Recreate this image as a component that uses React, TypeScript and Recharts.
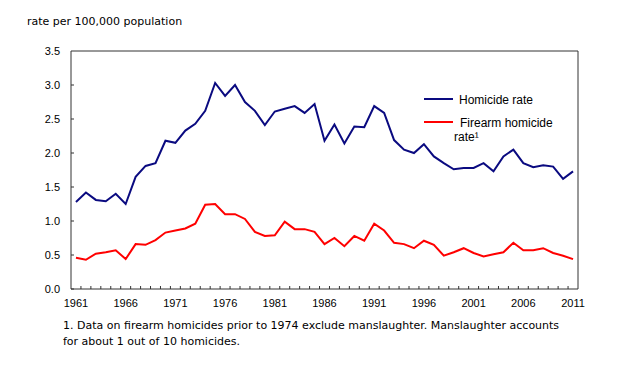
import React from "react";
import { LineChart, Line, XAxis, YAxis, Legend } from "recharts";

const years = [
  "1961", "1962", "1963", "1964", "1965", "1966", "1967", "1968", "1969", "1970",
  "1971", "1972", "1973", "1974", "1975", "1976", "1977", "1978", "1979", "1980",
  "1981", "1982", "1983", "1984", "1985", "1986", "1987", "1988", "1989", "1990",
  "1991", "1992", "1993", "1994", "1995", "1996", "1997", "1998", "1999", "2000",
  "2001", "2002", "2003", "2004", "2005", "2006", "2007", "2008", "2009", "2010",
  "2011",
];

const homicideRate = [
  1.28, 1.42, 1.31, 1.29, 1.4, 1.25, 1.65, 1.81, 1.85, 2.18,
  2.15, 2.33, 2.43, 2.62, 3.03, 2.84, 3.0, 2.75, 2.62, 2.41,
  2.61, 2.65, 2.69, 2.59, 2.72, 2.18, 2.42, 2.14, 2.39, 2.38,
  2.69, 2.59, 2.19, 2.05, 2.0, 2.13, 1.95, 1.85, 1.76, 1.78,
  1.78, 1.85, 1.73, 1.95, 2.05, 1.85, 1.79, 1.82, 1.8, 1.62,
  1.73,
];

const firearmRate = [
  0.46, 0.43, 0.52, 0.54, 0.57, 0.44, 0.66, 0.65, 0.72, 0.83,
  0.86, 0.89, 0.96, 1.24, 1.25, 1.1, 1.1, 1.03, 0.84, 0.78,
  0.79, 0.99, 0.88, 0.88, 0.84, 0.66, 0.75, 0.63, 0.78, 0.71,
  0.96, 0.86, 0.68, 0.66, 0.6, 0.71, 0.65, 0.49, 0.54, 0.6,
  0.53, 0.48, 0.51, 0.54, 0.68, 0.57, 0.57, 0.6, 0.53, 0.49,
  0.44,
];

const labelYears = ["1961", "1966", "1971", "1976", "1981", "1986", "1991", "1996", "2001", "2006", "2011"];
const yTicks = [0, 0.5, 1, 1.5, 2, 2.5, 3, 3.5];

const titleText = "rate per 100,000 population";
const seriesNames = ["Homicide rate", "Firearm homicide", "rate\u00b9"];
const footnoteLines = [
  "1. Data on firearm homicides prior to 1974 exclude manslaughter. Manslaughter accounts",
  "for about 1 out of 10 homicides.",
];

const data = years.map((y, i) => ({
  year: y,
  homicide: homicideRate[i],
  firearm: firearmRate[i],
}));

const BLUE = "#0a0a80";
const RED = "#ff0000";
const AXIS = "#333333";
const W = 620;
const H = 375;
const M = { top: 51, right: 42, left: 0, bottom: 56 };
const Y_AXIS_W = 71;
const X_AXIS_H = 30;
const PLOT_W = W - Y_AXIS_W - M.right;
const PLOT_H = H - M.top - M.bottom - X_AXIS_H;
const HALF = PLOT_W / years.length / 2;

const XTick = (props: any) => {
  const { x, y, payload, index } = props;
  const isLast = index === years.length - 1;
  return (
    <g>
      {isLast ? (
        <line x1={x + HALF} x2={x + HALF} y1={y} y2={y - PLOT_H} stroke={AXIS} strokeWidth={1} />
      ) : (
        <line x1={x + HALF} x2={x + HALF} y1={y} y2={y - 3} stroke={AXIS} strokeWidth={1} />
      )}
      {labelYears.includes(payload.value) && (
        <text x={x} y={y + 18} textAnchor="middle" fontFamily="'Liberation Sans', Arial, sans-serif" fontSize={11} fill="#000">
          {payload.value}
        </text>
      )}
    </g>
  );
};

const YTick = (props: any) => {
  const { x, y, payload, index } = props;
  const ax = x + 11;
  const isTop = index === yTicks.length - 1;
  return (
    <g>
      {isTop ? (
        <line x1={ax} x2={ax + PLOT_W} y1={y} y2={y} stroke={AXIS} strokeWidth={1} />
      ) : (
        <line x1={ax} x2={ax + 3} y1={y} y2={y} stroke={AXIS} strokeWidth={1} />
      )}
      <text x={x} y={y + 4} textAnchor="end" fontFamily="'Liberation Sans', Arial, sans-serif" fontSize={11} fill="#000">
        {payload.value.toFixed(1)}
      </text>
    </g>
  );
};

const LegendContent = () => (
  <svg width={170} height={60} style={{ display: "block" }}>
    <line x1={4} x2={33} y1={11} y2={11} stroke={BLUE} strokeWidth={2} />
    <text x={39} y={15.5} fontFamily="'Liberation Sans', Arial, sans-serif" fontSize={12} fill="#000">
      {seriesNames[0]}
    </text>
    <line x1={4} x2={33} y1={34} y2={34} stroke={RED} strokeWidth={2} />
    <text x={40} y={38.5} fontFamily="'Liberation Sans', Arial, sans-serif" fontSize={12} fill="#000">
      {seriesNames[1]}
    </text>
    <text x={34} y={52.5} fontFamily="'Liberation Sans', Arial, sans-serif" fontSize={12} fill="#000">
      {seriesNames[2]}
    </text>
  </svg>
);

export default function App() {
  return (
    <div style={{ position: "absolute", left: 0, top: 0, width: W, height: H, background: "#fff", overflow: "hidden" }}>
      <div
        style={{
          position: "absolute",
          left: 27,
          top: 14,
          fontFamily: "'DejaVu Sans', Verdana, sans-serif",
          fontSize: 11,
          lineHeight: "15px",
          color: "#000",
          whiteSpace: "nowrap",
        }}
      >
        {titleText}
      </div>
      <LineChart width={W} height={H} data={data} margin={M}>
        <XAxis
          dataKey="year"
          interval={0}
          height={X_AXIS_H}
          padding={{ left: HALF, right: HALF }}
          axisLine={{ stroke: AXIS, strokeWidth: 1 }}
          tickLine={false}
          tickSize={0}
          tickMargin={0}
          tick={<XTick />}
        />
        <YAxis
          width={Y_AXIS_W}
          domain={[0, 3.5]}
          ticks={yTicks}
          interval={0}
          axisLine={{ stroke: AXIS, strokeWidth: 1 }}
          tickLine={false}
          tickSize={0}
          tickMargin={11}
          tick={<YTick />}
        />
        <Legend
          layout="horizontal"
          verticalAlign="middle"
          align="center"
          content={<LegendContent />}
          wrapperStyle={{ position: "absolute", left: 420, top: 88, width: 170, height: 60 }}
        />
        <Line
          type="linear"
          dataKey="firearm"
          stroke={RED}
          strokeWidth={2}
          dot={false}
          isAnimationActive={false}
        />
        <Line
          type="linear"
          dataKey="homicide"
          stroke={BLUE}
          strokeWidth={2}
          dot={false}
          isAnimationActive={false}
        />
      </LineChart>
      <div
        style={{
          position: "absolute",
          left: 63,
          top: 318,
          fontFamily: "'DejaVu Sans', Verdana, sans-serif",
          fontSize: 11,
          lineHeight: "16px",
          color: "#000",
          whiteSpace: "nowrap",
        }}
      >
        <div>{footnoteLines[0]}</div>
        <div>{footnoteLines[1]}</div>
      </div>
    </div>
  );
}
